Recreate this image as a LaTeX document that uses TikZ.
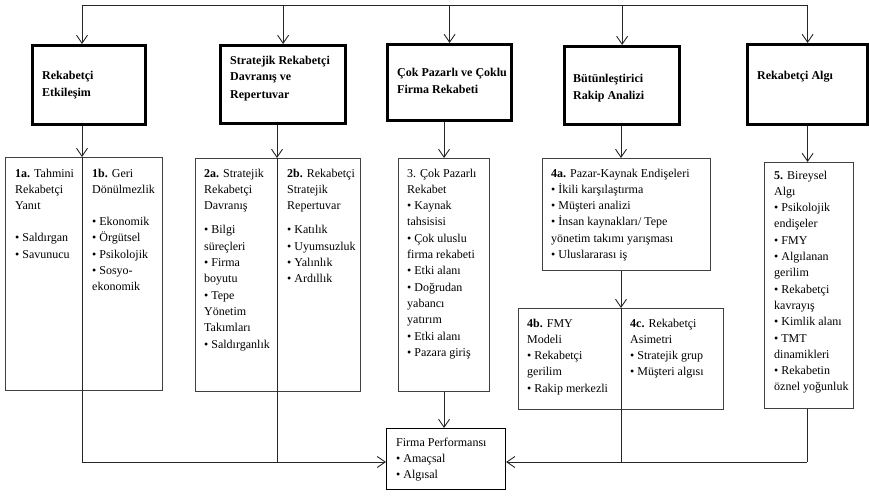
\documentclass[tikz,border=0pt]{standalone}
\usepackage{fontspec}
\setmainfont{Liberation Serif}
\usetikzlibrary{arrows.meta}
\newcommand{\lines}[1]{\begin{tabular}[t]{@{}l@{}}#1\end{tabular}}

\begin{document}
\begin{tikzpicture}[x=1pt,y=-1pt,
  hdr/.style={draw=black, line width=3.2pt, inner sep=0pt, anchor=north west},
  cbox/.style={draw=black!75, line width=1.1pt, inner sep=0pt, anchor=north west},
  txt/.style={anchor=base west, inner sep=0pt, font=\fontsize{12}{16.3}\selectfont},
  ttl/.style={anchor=base west, inner sep=0pt, font=\fontsize{12}{17}\selectfont\bfseries},
  conn/.style={draw=black!85, line width=0.9pt},
  arr/.style={conn, -{Straight Barb[length=8pt,width=11pt]}}]
  \useasboundingbox (0,0) rectangle (869,495);

  % Header boxes
  \node[hdr, minimum width=113pt, minimum height=79pt] (h1) at (31,44) {};
  \node[hdr, minimum width=125pt, minimum height=78pt] (h2) at (219,44) {};
  \node[hdr, minimum width=124pt, minimum height=76pt] (h3) at (386,43) {};
  \node[hdr, minimum width=115pt, minimum height=78pt] (h4) at (563,45) {};
  \node[hdr, minimum width=120pt, minimum height=80pt] (h5) at (746,43) {};

  \node[ttl] (t1) at (42,79) {\lines{Rekabetçi\\Etkileşim}};
  \node[ttl] (t2) at (230,64) {\lines{Stratejik Rekabetçi\\Davranış ve\\Repertuvar}};
  \node[ttl] (t3) at (397,77) {\lines{Çok Pazarlı ve Çoklu\\Firma Rekabeti}};
  \node[ttl] (t4) at (573,82) {\lines{Bütünleştirici\\Rakip Analizi}};
  \node[ttl] (t5) at (757,79) {Rekabetçi Algı};

  % Content boxes
  \node[cbox, minimum width=157pt, minimum height=233pt] (c1) at (5,157) {};
  \node[cbox, minimum width=165pt, minimum height=233pt] (c2) at (195,158) {};
  \node[cbox, minimum width=91pt, minimum height=233pt] (c3) at (398,158) {};
  \node[cbox, minimum width=168pt, minimum height=112pt] (c4a) at (542,158) {};
  \node[cbox, minimum width=205pt, minimum height=101pt] (c4b) at (518,308) {};
  \node[cbox, minimum width=89pt, minimum height=246pt] (c5) at (764,162) {};
  \node[cbox, draw=black, minimum width=119pt, minimum height=61pt] (fp) at (386,428) {};

  \node[txt] (x1a) at (15,177) {\lines{\textbf{1a.} Tahmini\\Rekabetçi\\Yanıt\\[16pt]• Saldırgan\\• Savunucu}};
  \node[txt] (x1b) at (92,177) {\lines{\textbf{1b.} Geri\\Dönülmezlik\\[16pt]• Ekonomik\\• Örgütsel\\• Psikolojik\\• Sosyo-\\ekonomik}};
  \node[txt] (x2a) at (204,177) {\lines{\textbf{2a.} Stratejik\\Rekabetçi\\Davranış\\[8pt]• Bilgi\\süreçleri\\• Firma\\boyutu\\• Tepe\\Yönetim\\Takımları\\• Saldırganlık}};
  \node[txt] (x2b) at (287,177) {\lines{\textbf{2b.} Rekabetçi\\Stratejik\\Repertuvar\\[8pt]• Katılık\\• Uyumsuzluk\\• Yalınlık\\• Ardıllık}};
  \node[txt] (x3) at (407,177) {\lines{3. Çok Pazarlı\\Rekabet\\• Kaynak\\tahsisisi\\• Çok uluslu\\firma rekabeti\\• Etki alanı\\• Doğrudan\\yabancı\\yatırım\\• Etki alanı\\• Pazara giriş}};
  \node[txt] (x4a) at (551,177) {\lines{\textbf{4a.} Pazar-Kaynak Endişeleri\\• İkili karşılaştırma\\• Müşteri analizi\\• İnsan kaynakları/ Tepe\\yönetim takımı yarışması\\• Uluslararası iş}};
  \node[txt] (x4b) at (527,327) {\lines{\textbf{4b.} FMY\\Modeli\\• Rekabetçi\\gerilim\\• Rakip merkezli}};
  \node[txt] (x4c) at (630,327) {\lines{\textbf{4c.} Rekabetçi\\Asimetri\\• Stratejik grup\\• Müşteri algısı}};
  \node[txt] (x5) at (774,179) {\lines{\textbf{5.} Bireysel\\Algı\\• Psikolojik\\endişeler\\• FMY\\• Algılanan\\gerilim\\• Rekabetçi\\kavrayış\\• Kimlik alanı\\• TMT\\dinamikleri\\• Rekabetin\\öznel yoğunluk}};
  \node[txt] (xfp) at (396,446) {\lines{Firma Performansı\\• Amaçsal\\• Algısal}};

  % Connectors
  \coordinate (tl) at (82,5);
  \coordinate (tr) at (807,5);
  \coordinate (bl) at (82,462);
  \coordinate (br) at (807,462);
  \coordinate (m2) at (277,462);
  \coordinate (m4) at (621,462);

  \draw[conn] (tl) -- (tr);
  \draw[arr] (tl) -- (tl |- h1.north);
  \draw[arr] (h2.north |- tl) -- (h2.north);
  \draw[arr] (h3.north |- tl) -- (h3.north);
  \draw[arr] (h4.north |- tl) -- (h4.north);
  \draw[arr] (h5.north |- tl) -- (h5.north);

  \draw[arr] (tl |- h1.south) -- (tl |- c1.north);
  \draw[conn] (tl |- c1.north) -- (bl);
  \draw[arr] (bl) -- (bl -| fp.west);

  \draw[arr] (m2 |- h2.south) -- (m2 |- c2.north);
  \draw[conn] (m2 |- c2.north) -- (m2);

  \draw[arr] (h3.south -| c3.north) -- (c3.north);
  \draw[arr] (c3.south) -- (c3.south |- fp.north);

  \draw[arr] (m4 |- h4.south) -- (m4 |- c4a.north);
  \draw[arr] (m4 |- c4a.south) -- (m4 |- c4b.north);
  \draw[conn] (m4 |- c4b.north) -- (m4);

  \draw[arr] (h5.south) -- (h5.south |- c5.north);
  \draw[conn] (br |- c5.south) -- (br);
  \draw[arr] (br) -- (br -| fp.east);
\end{tikzpicture}
\end{document}
